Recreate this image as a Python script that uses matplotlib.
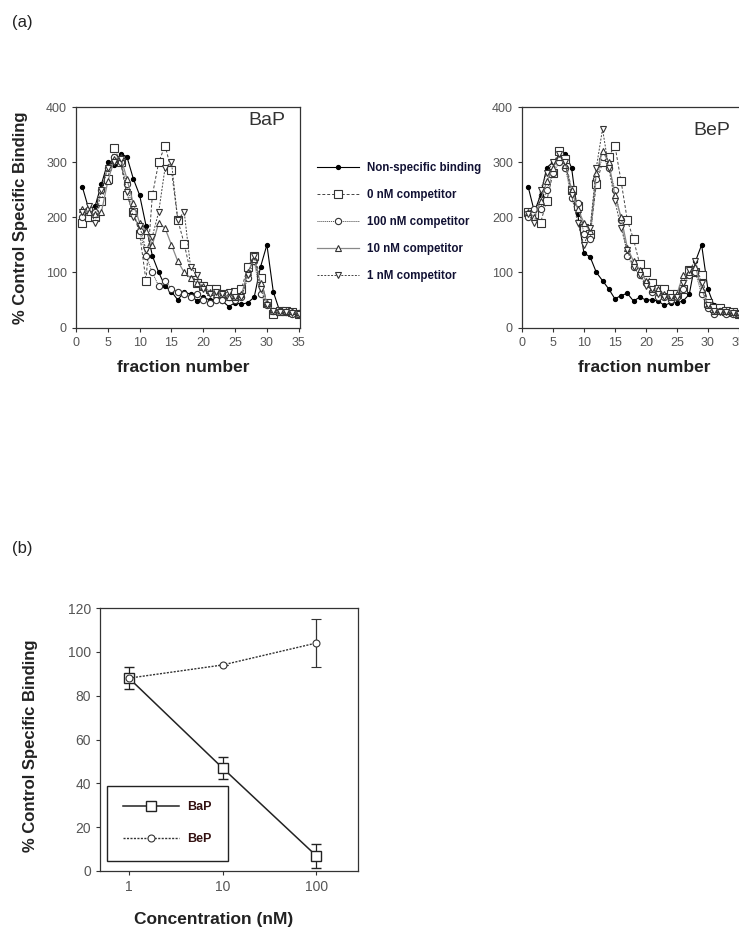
import numpy as np
import matplotlib
matplotlib.use("Agg")
import matplotlib.pyplot as plt
from matplotlib.lines import Line2D

plt.rcParams['font.family'] = ['Liberation Sans', 'DejaVu Sans']

fractions = list(range(1, 37))

# panel (a) BaP
bap_nonspec = [255, 215, 220, 260, 300, 295, 315, 310, 270, 240, 185, 130, 100, 75, 65, 50, 65, 60,
               48, 55, 50, 52, 48, 38, 45, 42, 45, 55, 110, 150, 65, 30, 28, 30, 28, 20]
bap_0nm = [190, 200, 200, 230, 270, 325, 300, 240, 210, 170, 85, 240, 300, 330, 285, 195, 152, 100,
           80, 75, 70, 70, 60, 60, 65, 70, 110, 130, 90, 45, 25, 30, 30, 28, 25, 25]
bap_100nm = [200, 215, 210, 250, 290, 310, 300, 260, 210, 175, 130, 100, 75, 85, 70, 65, 60, 55,
             60, 50, 45, 50, 50, 55, 50, 55, 90, 120, 60, 40, 30, 30, 28, 25, 25, 22]
bap_10nm = [215, 210, 205, 210, 265, 305, 310, 270, 225, 190, 175, 150, 190, 180, 150, 120, 100, 90,
            80, 75, 65, 60, 60, 55, 55, 60, 100, 125, 80, 45, 30, 28, 30, 30, 25, 22]
bap_1nm = [210, 220, 190, 250, 290, 300, 305, 245, 200, 185, 140, 165, 210, 290, 300, 195, 210, 110,
           95, 70, 60, 65, 60, 65, 55, 55, 95, 130, 70, 40, 30, 28, 28, 27, 25, 20]

# panel (a) BeP
bep_nonspec = [255, 210, 240, 290, 300, 310, 315, 290, 205, 135, 128, 100, 85, 70, 52, 58, 62, 48,
               55, 50, 50, 48, 40, 45, 45, 48, 60, 120, 150, 70, 40, 30, 30, 28, 25, 22]
bep_0nm = [210, 205, 190, 230, 280, 320, 305, 250, 220, 180, 170, 260, 300, 310, 330, 265, 195, 160,
           115, 100, 80, 70, 70, 60, 60, 70, 105, 100, 95, 45, 35, 35, 30, 28, 25, 25]
bep_100nm = [200, 215, 215, 250, 280, 300, 290, 235, 225, 170, 160, 270, 310, 290, 250, 195, 130, 110,
             95, 80, 65, 55, 55, 50, 55, 70, 95, 100, 60, 35, 25, 30, 25, 25, 22, 20]
bep_10nm = [210, 200, 230, 265, 290, 310, 295, 250, 215, 190, 175, 280, 320, 300, 240, 200, 145, 120,
            105, 85, 70, 70, 60, 55, 60, 95, 100, 110, 70, 40, 30, 30, 30, 28, 25, 22]
bep_1nm = [205, 190, 250, 280, 300, 315, 300, 240, 190, 150, 180, 290, 360, 290, 230, 180, 140, 110,
           95, 75, 70, 60, 55, 55, 55, 80, 105, 120, 80, 40, 30, 28, 28, 26, 24, 20]

legend_labels = ["Non-specific binding", "0 nM competitor", "100 nM competitor",
                 "10 nM competitor", "1 nM competitor"]

# panel (b)
conc = [1, 10, 100]
bap_b = [88, 47, 7]
bap_b_err = [5, 5, 5.5]
bep_b = [88, 94, 104]
bep_b_err = [0, 0, 11]

gray = "#555555"

styles = [
    dict(color="black", ls="-", lw=0.8, marker="o", ms=2.8, mfc="black", mec="black"),
    dict(color="#444444", ls=(0, (3, 2)), lw=0.7, marker="s", ms=5.5, mfc="white", mec="#333333", mew=0.8),
    dict(color="#444444", ls=(0, (1, 1)), lw=0.7, marker="o", ms=4.5, mfc="white", mec="#333333", mew=0.8),
    dict(color="#888888", ls="-", lw=0.9, marker="^", ms=5, mfc="white", mec="#333333", mew=0.8),
    dict(color="#444444", ls=(0, (2, 1.5)), lw=0.7, marker="v", ms=5, mfc="white", mec="#333333", mew=0.8),
]

fig = plt.figure(figsize=(7.39, 9.32), dpi=100)
W, H = 739, 932


def px_axes(x0, y0, x1, y1):
    return fig.add_axes([x0 / W, 1 - y1 / H, (x1 - x0) / W, (y1 - y0) / H])


def style_axes(ax, size):
    for s in ax.spines.values():
        s.set_color("#333333")
        s.set_linewidth(0.9)
    ax.tick_params(direction="out", length=3, width=0.8, colors="#333333",
                   labelcolor=gray, labelsize=size)


panels = [
    ("BaP", (76, 107, 300, 327.5), [bap_nonspec, bap_0nm, bap_100nm, bap_10nm, bap_1nm],
     (0.933, 0.94), 0.48),
    ("BeP", (522, 107, 745, 327.5), [bep_nonspec, bep_0nm, bep_100nm, bep_10nm, bep_1nm],
     (0.933, 0.895), 0.547),
]

handles = None
for name, box, series, txt_pos, xlab_x in panels:
    ax = px_axes(*box)
    lines = []
    for vals, st, lab in zip(series, styles, legend_labels):
        ln, = ax.plot(fractions, vals, label=lab, **st)
        lines.append(ln)
    if handles is None:
        handles = lines
        ax.set_ylabel("% Control Specific Binding", fontsize=12, fontweight="bold", color="#222222")
        ax.yaxis.set_label_coords(-0.213, 0.5)
    ax.set_xlim(0, 35.2 if name == "BaP" else 36)
    ax.set_ylim(0, 400)
    ax.set_xticks(range(0, 36, 5))
    ax.set_yticks(range(0, 401, 100))
    style_axes(ax, 9)
    ax.set_xlabel("fraction number", fontsize=12.5, fontweight="bold", color="#222222")
    ax.xaxis.set_label_coords(xlab_x, -0.147)
    ax.text(txt_pos[0], txt_pos[1], name, transform=ax.transAxes, ha="right", va="center",
            fontsize=14, color="#333333")

leg = fig.legend(handles, legend_labels, loc="upper left", bbox_to_anchor=(307 / W, 1 - 152 / H),
                 frameon=False, handlelength=3.6, labelspacing=1.3, handletextpad=0.7,
                 prop=dict(size=8.3, weight="bold"))
for t in leg.get_texts():
    t.set_color("#111133")

fig.text(12 / W, 1 - 22 / H, "(a)", fontsize=12, ha="left", va="center", color="#222222")
fig.text(12 / W, 1 - 548 / H, "(b)", fontsize=12, ha="left", va="center", color="#222222")

# panel (b)
axb = px_axes(100, 608, 358, 871)
axb.errorbar(conc, bap_b, yerr=bap_b_err, color="#222222", ls="-", lw=1.1, marker="s", ms=7,
             mfc="white", mec="#222222", mew=1.0, capsize=3.5, elinewidth=0.9)
axb.errorbar(conc, bep_b, yerr=bep_b_err, color="#333333", ls=(0, (1.5, 1)), lw=1.0, marker="o", ms=5,
             mfc="white", mec="#333333", mew=0.8, capsize=3.5, elinewidth=0.9)
axb.set_xscale("log")
axb.set_xlim(0.49, 280)
axb.set_ylim(0, 120)
axb.set_xticks(conc)
axb.set_xticklabels(["1", "10", "100"])
axb.minorticks_off()
axb.set_yticks(range(0, 121, 20))
style_axes(axb, 10)
axb.set_ylabel("% Control Specific Binding", fontsize=12, fontweight="bold", color="#222222")
axb.yaxis.set_label_coords(-0.24, 0.475)
axb.set_xlabel("Concentration (nM)", fontsize=12.5, fontweight="bold", color="#222222")
axb.xaxis.set_label_coords(0.442, -0.156)

leg_handles = [
    Line2D([], [], color="#222222", ls="-", lw=1.1, marker="s", ms=7, mfc="white", mec="#222222", mew=1.0),
    Line2D([], [], color="#333333", ls=(0, (1.5, 1)), lw=1.0, marker="o", ms=5, mfc="white", mec="#333333", mew=0.8),
]
lb = axb.legend(leg_handles, ["BaP", "BeP"], loc="lower left",
                bbox_to_anchor=(0.027, 0.038, 0.469, 0.3), mode="expand", borderaxespad=0,
                fancybox=False, edgecolor="#222222", framealpha=1, handlelength=4.5,
                labelspacing=1.6, borderpad=1.25, handletextpad=0.7, prop=dict(size=9, weight="bold"))
lb.get_frame().set_linewidth(1.0)
for t in lb.get_texts():
    t.set_color("#331111")

fig.savefig("out.png", dpi=100)
